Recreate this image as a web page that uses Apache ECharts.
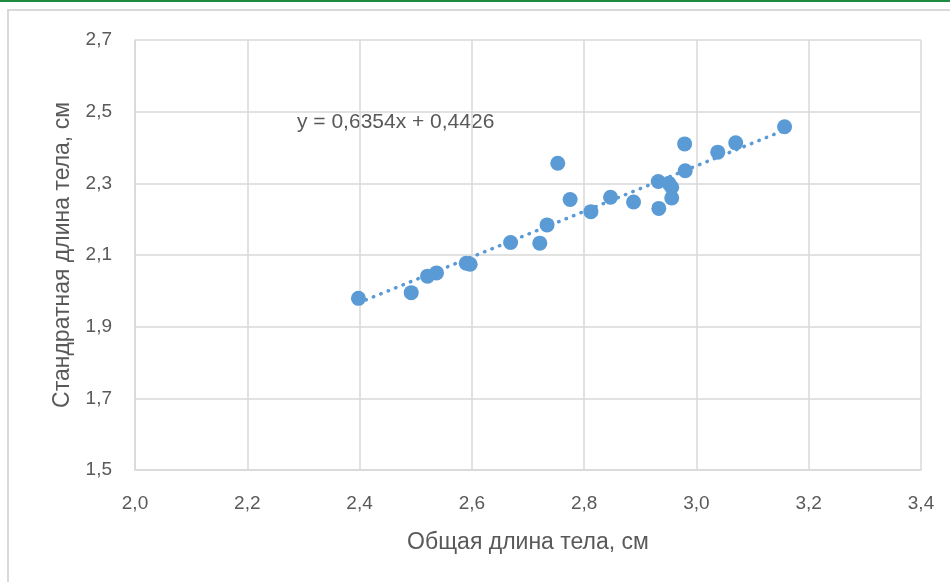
<!DOCTYPE html>
<html>
<head>
<meta charset="utf-8">
<script src="https://cdn.jsdelivr.net/npm/echarts@6/dist/echarts.min.js"></script>
<style>
  html, body { margin: 0; padding: 0; background: #fff; }
  #main { width: 950px; height: 582px; }
</style>
</head>
<body>
<div id="main"></div>
<script>
// общая длина тела (x) и стандартная длина тела (y), см
var totalLength = [2.398, 2.492, 2.521, 2.537, 2.590, 2.597, 2.669, 2.721, 2.734, 2.753, 2.775,
    2.812, 2.847, 2.888, 2.932, 2.933, 2.951, 2.956, 2.956, 2.979, 2.980, 3.038, 3.070, 3.157];
var standardLength = [1.979, 1.995, 2.041, 2.050, 2.077, 2.074, 2.135, 2.133, 2.184, 2.356, 2.255,
    2.221, 2.261, 2.248, 2.305, 2.230, 2.300, 2.289, 2.259, 2.410, 2.335, 2.387, 2.413, 2.458];

// линия тренда из уравнения на графике
var slope = 0.6354;
var intercept = 0.4426;
var equationText = 'y = 0,6354x + 0,4426';

var points = totalLength.map(function (x, i) {
    return [x, standardLength[i]];
});
var xMin = Math.min.apply(null, totalLength);
var xMax = Math.max.apply(null, totalLength);
var trend = [[xMin, slope * xMin + intercept], [xMax, slope * xMax + intercept]];

var font = "'Liberation Sans', Arial, sans-serif";
var gray = '#595959';
var gridColor = '#d9d9d9';

function comma(v) {
    return v.toFixed(1).replace('.', ',');
}

var myChart = echarts.init(document.getElementById('main'));
myChart.setOption({
    animation: false,
    backgroundColor: '#fff',
    textStyle: { fontFamily: font },
    grid: { left: 135, right: 29, top: 40, bottom: 112 },
    graphic: [{
        type: 'rect',
        shape: { x: 0, y: 0, width: 950, height: 2 },
        style: { fill: '#1e8b3e' }
    }, {
        type: 'rect',
        shape: { x: 8, y: 10, width: 960, height: 600 },
        style: { fill: 'none', stroke: gridColor, lineWidth: 2 }
    }, {
        type: 'text',
        left: 297,
        top: 112,
        style: { text: equationText, fontSize: 21, fontFamily: font, fill: gray }
    }],
    xAxis: {
        type: 'value',
        min: 2.0,
        max: 3.4,
        interval: 0.2,
        name: 'Общая длина тела, см',
        nameLocation: 'middle',
        nameGap: 61,
        nameTextStyle: { fontSize: 23, color: gray, fontFamily: font },
        axisLine: { show: true, lineStyle: { color: gridColor, width: 1.5 } },
        axisTick: { show: false },
        axisLabel: { formatter: comma, fontSize: 19, color: gray, margin: 24 },
        splitLine: { show: true, lineStyle: { color: gridColor, width: 1.5 } }
    },
    yAxis: {
        type: 'value',
        min: 1.5,
        max: 2.7,
        interval: 0.2,
        name: 'Стандратная длина тела, см',
        nameLocation: 'middle',
        nameGap: 61,
        nameTextStyle: { fontSize: 23, color: gray, fontFamily: font },
        axisLine: { show: true, lineStyle: { color: gridColor, width: 1.5 } },
        axisTick: { show: false },
        axisLabel: { formatter: comma, fontSize: 19, color: gray, margin: 23 },
        splitLine: { show: true, lineStyle: { color: gridColor, width: 1.5 } }
    },
    series: [{
        name: 'тренд',
        type: 'line',
        data: trend,
        symbol: 'none',
        z: 1,
        lineStyle: { color: '#5b9bd5', width: 3.5, type: [0.5, 7.5], cap: 'round' }
    }, {
        name: 'данные',
        type: 'scatter',
        data: points,
        symbolSize: 15,
        z: 2,
        itemStyle: { color: '#5b9bd5', opacity: 1 }
    }]
});
</script>
</body>
</html>
